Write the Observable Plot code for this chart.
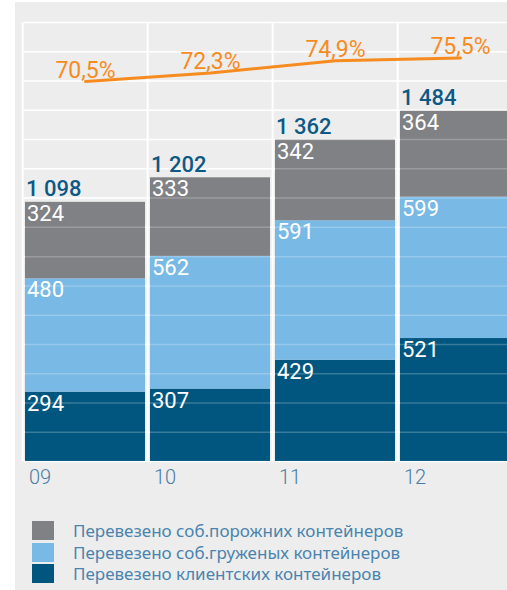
<!DOCTYPE html>
<html>
<head>
<meta charset="utf-8">
<script src="https://cdn.jsdelivr.net/npm/d3@7"></script>
<script src="https://cdn.jsdelivr.net/npm/@observablehq/plot@0.6"></script>
<style>
  html, body { margin: 0; padding: 0; }
  body { width: 507px; height: 590px; overflow: hidden; background: #fff; position: relative; font-family: "Noto Sans", sans-serif; }
  #panel { position: absolute; left: 15px; top: 2px; right: 0; bottom: 0; background: #ededed; }
  #chart { position: absolute; left: 0; top: 0; }
  #legend { position: absolute; left: 32px; top: 520px; }
  .row { display: flex; align-items: center; height: 21.5px; }
  .sw { width: 22px; height: 19px; margin-right: 19px; flex: none; }
  .lab { font-size: 17px; color: #4a84ae; white-space: nowrap; }
</style>
</head>
<body>
<div id="panel"></div>
<div id="chart"></div>
<div id="legend"></div>
<script>
// ---- data ----
const years = ["09", "10", "11", "12"];
const clientCont = [294, 307, 429, 521];
const ownLoaded = [480, 562, 591, 599];
const ownEmpty = [324, 333, 342, 364];
const totals = [1098, 1202, 1362, 1484];
const totalLabels = ["1 098", "1 202", "1 362", "1 484"];
const share = [70.5, 72.3, 74.9, 75.5];
const shareLabels = ["70,5%", "72,3%", "74,9%", "75,5%"];
const seriesNames = [
  "Перевезено клиентских контейнеров",
  "Перевезено соб.груженых контейнеров",
  "Перевезено соб.порожних контейнеров"
];
const seriesColors = ["#00567f", "#78b9e5", "#808185"];
const gridStep = 124;
const yMax = 1860;

// ---- build tables ----
const seriesValues = [clientCont, ownLoaded, ownEmpty];
const stackRows = [];
seriesNames.forEach((s, i) => years.forEach((y, j) => stackRows.push({year: y, series: s, value: seriesValues[i][j]})));
const totalRows = years.map((y, j) => ({year: y, total: totals[j], label: totalLabels[j]}));
const shareRows = years.map((y, j) => ({year: y, share: share[j], label: shareLabels[j]}));
const gridTicks = d3.range(0, yMax + 1, gridStep);
// percentage line placed in the upper band of the chart
const shareY = d => 1610 + (d.share - 70.5) * 20;

const xRange = [25, 523];
const padIn = 0.037;
const step = (xRange[1] - xRange[0]) / (years.length - padIn);
const bw = step * (1 - padIn);

const chart = Plot.plot({
  width: 507,
  height: 500,
  marginLeft: 24,
  marginRight: 0,
  marginTop: 22,
  marginBottom: 39,
  style: {background: "transparent", fontFamily: "Roboto, sans-serif"},
  x: {type: "band", domain: years, range: xRange, paddingInner: padIn, paddingOuter: 0, align: 0, label: null},
  y: {domain: [0, yMax], axis: null},
  color: {domain: seriesNames, range: seriesColors},
  marks: [
    Plot.ruleY(gridTicks, {stroke: "white", strokeWidth: 1.5}),
    Plot.ruleX(years, {x: d => d, stroke: "white", strokeWidth: 2, dx: -bw / 2 - (step - bw) / 2}),
    Plot.barY(stackRows, {x: "year", y: "value", fill: "series", order: seriesNames}),
    Plot.ruleY(gridTicks, {stroke: "white", strokeOpacity: 0.22, strokeWidth: 1.5}),
    Plot.text(stackRows, Plot.stackY2({
      x: "year", y: "value", z: "series", order: seriesNames,
      text: d => String(d.value), fill: "white", textAnchor: "start", lineAnchor: "top",
      dx: -bw / 2 + 2, dy: 3, fontSize: 22
    })),
    Plot.text(totalRows, {
      x: "year", y: "total", text: "label", fill: "#0d5986", textAnchor: "start", lineAnchor: "bottom",
      dx: -bw / 2 + 1, dy: -6, fontSize: 22, fontWeight: 500
    }),
    Plot.line(shareRows, {x: "year", y: shareY, stroke: "#f68b1f", strokeWidth: 3}),
    Plot.text(shareRows, {
      x: "year", y: shareY, text: "label", fill: "#f68b1f", lineAnchor: "bottom",
      dy: -4, fontSize: 23
    }),
    Plot.axisX({
      tickSize: 0, tickPadding: 8, textAnchor: "start", dx: -bw / 2 + 4, label: null,
      fontSize: 20, fill: "#4a7ca4", fontWeight: 300
    })
  ]
});
document.getElementById("chart").appendChild(chart);

// ---- legend ----
const legend = document.getElementById("legend");
[2, 1, 0].forEach(i => {
  const row = document.createElement("div");
  row.className = "row";
  const sw = document.createElement("div");
  sw.className = "sw";
  sw.style.background = seriesColors[i];
  const lab = document.createElement("div");
  lab.className = "lab";
  lab.textContent = seriesNames[i];
  row.appendChild(sw);
  row.appendChild(lab);
  legend.appendChild(row);
});
</script>
</body>
</html>
